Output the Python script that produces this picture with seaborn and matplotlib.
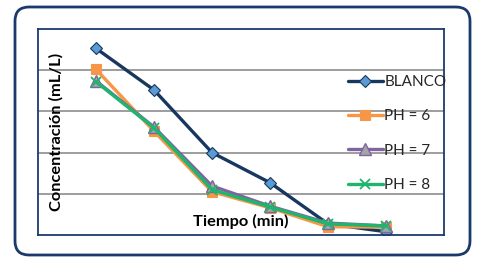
import matplotlib
matplotlib.use("Agg")
import matplotlib.pyplot as plt
from matplotlib.patches import FancyBboxPatch
from matplotlib.transforms import IdentityTransform
import seaborn as sns
import pandas as pd

# ---- data ----
tiempo = [1, 2, 3, 4, 5, 6]
blanco = [4.53, 3.52, 2.00, 1.27, 0.27, 0.08]
ph6 = [4.02, 2.52, 1.05, 0.66, 0.20, 0.19]
ph7 = [3.74, 2.62, 1.19, 0.70, 0.29, 0.22]
ph8 = [3.72, 2.60, 1.10, 0.68, 0.27, 0.22]
series_names = ["BLANCO", "PH = 6", "PH = 7", "PH = 8"]
x_label = "Tiempo (min)"
y_label = "Concentración (mL/L)"

df = pd.DataFrame({
    "t": tiempo * 4,
    "c": blanco + ph6 + ph7 + ph8,
    "serie": sum([[n] * len(tiempo) for n in series_names], []),
})

sns.set_theme(style="white")
plt.rcParams["font.family"] = ["Lato", "DejaVu Sans"]

fig = plt.figure(figsize=(4.84, 2.63), dpi=100)
ax = fig.add_axes([38 / 484, 1 - 235 / 263, 406 / 484, 206 / 263])

navy = "#1B3A6B"
styles = {
    "BLANCO": dict(color="#17375E", marker="D", markersize=6.5, markerfacecolor="#5B9BD5",
                   markeredgecolor="#17375E", markeredgewidth=0.8),
    "PH = 6": dict(color="#F79646", marker="s", markersize=7.5, markerfacecolor="#F79646",
                   markeredgecolor="#F79646", markeredgewidth=0.8),
    "PH = 7": dict(color="#8064A2", marker="^", markersize=8, markerfacecolor="#A5A5A5",
                   markeredgecolor="#8064A2", markeredgewidth=1.0),
    "PH = 8": dict(color="#1FB56E", marker="x", markersize=7, markerfacecolor="#1FB56E",
                   markeredgecolor="#1FB56E", markeredgewidth=1.3),
}

for name in series_names:
    sub = df[df["serie"] == name]
    sns.lineplot(data=sub, x="t", y="c", ax=ax, label=name, linewidth=2.4, **styles[name])

ax.set_xlim(0, 7)
ax.set_ylim(0, 5.0)
ax.set_yticks([1, 2, 3, 4])
ax.set_xticks([])
ax.tick_params(left=False, bottom=False, labelleft=False, labelbottom=False)
ax.yaxis.grid(True, color="#8C8C8C", linewidth=1.2)
ax.xaxis.grid(False)
for s in ax.spines.values():
    s.set_color(navy)
    s.set_linewidth(1.3)

ax.set_xlabel(x_label, fontsize=11.8, fontweight="bold", color="black")
ax.xaxis.set_label_coords(0.5, 0.1)
ax.set_ylabel(y_label, fontsize=11.8, fontweight="bold", color="black")
ax.yaxis.set_label_coords(0.062, 0.5)

leg = ax.legend(loc="upper left", bbox_to_anchor=(0.763, 0.776), frameon=False,
                fontsize=11, handlelength=2.3, handletextpad=0.1, labelspacing=1.33,
                borderpad=0, borderaxespad=0)

border = FancyBboxPatch((15, 8), 455, 248, boxstyle="round,pad=0,rounding_size=14",
                        transform=IdentityTransform(), fill=False, edgecolor=navy,
                        linewidth=2.0, clip_on=False)
fig.patches.append(border)

fig.savefig("out.png", dpi=100)
